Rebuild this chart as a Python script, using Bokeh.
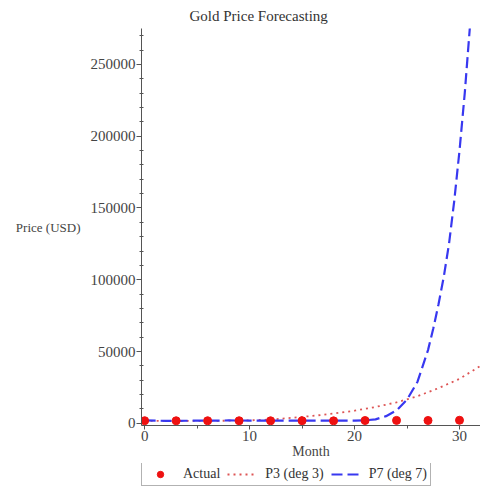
from bokeh.plotting import figure
from bokeh.layouts import column
from bokeh.models import (FixedTicker, Legend, LegendItem, Range1d,
                          BasicTickFormatter)
from bokeh.embed import file_html
from bokeh.resources import INLINE

# ---- data ----
actual_months = [0, 3, 6, 9, 12, 15, 18, 21, 24, 27, 30, 33]
actual_prices = [1850, 1790, 1800, 1810, 1780, 1830, 1740, 1950, 2050, 2000, 2150, 2300]

p3_months = [0, 3, 6, 9, 10, 12, 14, 16, 18, 20, 22, 24, 26, 28, 30, 32, 33]
p3_prices = [1800, 1700, 1700, 1900, 2100, 2600, 3800, 5200, 6800, 8800,
             11400, 14600, 18900, 24500, 31000, 40000, 45000]

p7_months = [0, 2, 4, 6, 8, 10, 12, 14, 16, 18, 20, 21, 22, 23, 24, 25, 26,
             27, 27.5, 28, 28.5, 29, 29.5, 30, 30.5, 31, 31.3]
p7_prices = [2100, 1700, 1800, 1900, 2000, 1950, 1900, 1900, 1950, 1900, 1900,
             2100, 2800, 5000, 9000, 16500, 29000, 51000, 66000, 83000, 102000,
             125000, 155000, 190000, 230000, 277000, 310000]

series_labels = ["Actual", "P3 (deg 3)", "P7 (deg 7)"]

x_major = [0, 10, 20, 30]
x_minor = [5, 15, 25]
y_major = [0, 50000, 100000, 150000, 200000, 250000]
y_minor = [v for v in range(0, 280000, 10000) if v % 50000 != 0]

FONT = "Liberation Serif"
TXT = "#444444"
AX = "#555555"
C_ACT = "#ee1111"
C_P3 = "#dd5555"
C_P7 = "#3838f0"

p = figure(width=480, height=463, output_backend="svg", toolbar_location=None,
           x_range=Range1d(-0.3, 32.0), y_range=Range1d(-1500, 275000),
           min_border_left=141, min_border_right=0, min_border_top=17,
           min_border_bottom=38, title="Gold Price Forecasting")

p.outline_line_color = None
p.xgrid.visible = False
p.ygrid.visible = False

p.title.text_font = FONT
p.title.text_font_size = "15px"
p.title.text_font_style = "normal"
p.title.text_color = "#333333"
p.title.align = "left"
p.title.offset = 48

# axes
for ax in (p.xaxis[0], p.yaxis[0]):
    ax.axis_line_color = AX
    ax.major_tick_line_color = AX
    ax.minor_tick_line_color = AX
    ax.major_label_text_font = FONT
    ax.major_label_text_font_size = "15px"
    ax.major_label_text_color = TXT
    ax.axis_label_text_font = FONT
    ax.axis_label_text_font_size = "14px"
    ax.axis_label_text_font_style = "normal"
    ax.axis_label_text_color = TXT

p.xaxis.ticker = FixedTicker(ticks=x_major, minor_ticks=x_minor)
p.xaxis.axis_label = "Month"
p.xaxis.major_tick_in = 0
p.xaxis.major_tick_out = 4
p.xaxis.minor_tick_in = 0
p.xaxis.minor_tick_out = 3
p.xaxis.major_label_standoff = 1
p.xaxis.axis_label_standoff = 0

p.yaxis.ticker = FixedTicker(ticks=y_major, minor_ticks=y_minor)
p.yaxis.formatter = BasicTickFormatter(use_scientific=False)
p.yaxis.axis_label = "Price (USD)"
p.yaxis.axis_label_text_font_size = "13px"
p.yaxis.axis_label_orientation = "horizontal"
p.yaxis.major_tick_in = 0
p.yaxis.major_tick_out = 5
p.yaxis.minor_tick_in = 2
p.yaxis.minor_tick_out = 2
p.yaxis.major_label_standoff = 1
p.yaxis.axis_label_standoff = 7

# series
p.line(p3_months, p3_prices, line_color=C_P3, line_width=1.8, line_dash="2 4")
p.line(p7_months, p7_prices, line_color=C_P7, line_width=2.2, line_dash="11 5")
p.scatter(actual_months, actual_prices, size=8, fill_color=C_ACT,
          line_color=C_ACT)

# legend strip below the chart: a small figure whose own renderers share the
# series' styles (their data lie outside its 0..1 ranges, so only the legend shows)
lg = figure(width=480, height=23, output_backend="svg", toolbar_location=None,
            x_axis_type=None, y_axis_type=None,
            x_range=Range1d(0, 1), y_range=Range1d(0, 1), min_border=0)
lg.outline_line_color = None
k_act = lg.scatter(actual_months, actual_prices, size=8, fill_color=C_ACT,
                   line_color=C_ACT)
k_p3 = lg.line(p3_months, p3_prices, line_color=C_P3, line_width=1.8,
               line_dash="2 4")
k_p7 = lg.line(p7_months, p7_prices, line_color=C_P7, line_width=2.2,
               line_dash="11 5")

legend = Legend(items=[LegendItem(label=series_labels[0], renderers=[k_act]),
                       LegendItem(label=series_labels[1], renderers=[k_p3]),
                       LegendItem(label=series_labels[2], renderers=[k_p7])],
                orientation="horizontal", location=(0, 0),
                border_line_color="#666666", border_line_width=1.5,
                background_fill_alpha=0,
                label_text_font=FONT, label_text_font_size="14px",
                label_text_color="#333333",
                glyph_width=30, glyph_height=16, label_height=16,
                label_standoff=8, spacing=7, padding=3, margin=0)
lg.add_layout(legend)

layout = column(p, lg, spacing=0)
open("out.html", "w").write(file_html(layout, INLINE))
